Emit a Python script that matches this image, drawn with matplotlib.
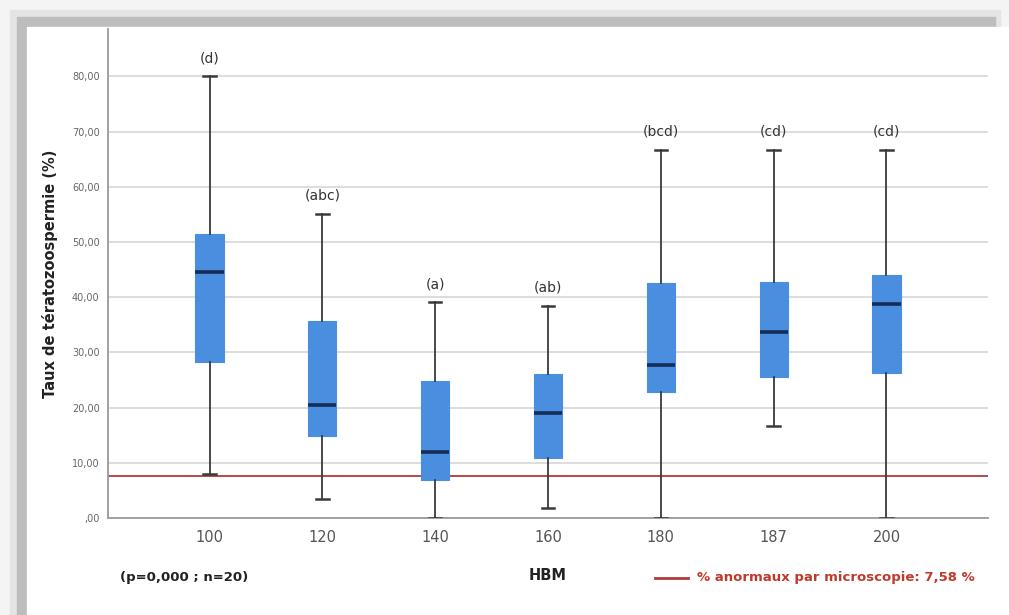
import matplotlib.pyplot as plt
from matplotlib.patches import Rectangle
from matplotlib.lines import Line2D

# HBM groups and box statistics (%)
groups = ['100', '120', '140', '160', '180', '187', '200']
whis_low = [8.0, 3.5, 0.0, 1.8, 0.0, 16.7, 0.0]
q1 = [28.2, 14.9, 6.9, 10.9, 22.9, 25.5, 26.2]
median = [44.6, 20.4, 11.9, 19.0, 27.7, 33.7, 38.7]
q3 = [51.4, 35.7, 24.8, 26.1, 42.6, 42.8, 44.1]
whis_high = [80.0, 55.1, 39.1, 38.4, 66.67, 66.67, 66.67]
letters = ['(d)', '(abc)', '(a)', '(ab)', '(bcd)', '(cd)', '(cd)']
ref_value = 7.58
yticks = [0, 10, 20, 30, 40, 50, 60, 70, 80]
ytick_labels = [',00', '10,00', '20,00', '30,00', '40,00', '50,00', '60,00', '70,00', '80,00']

W, H = 1009, 615
fig = plt.figure(figsize=(W / 100, H / 100), dpi=100)
fig.patch.set_facecolor('#f4f4f4')

def px_rect(x0, y0, x1, y1, color):
    fig.patches.append(Rectangle((x0 / W, 1 - y1 / H), (x1 - x0) / W, (y1 - y0) / H,
                                 transform=fig.transFigure, color=color, zorder=-10))

# framed panel with a shadow on top and left
px_rect(10, 10, 1000, 615, '#e4e4e4')
px_rect(17, 17, 995, 615, '#bdbdbd')
px_rect(27, 27, 1009, 615, 'white')

ax = fig.add_axes([108 / W, 1 - 518 / H, (988 - 108) / W, (518 - 29) / H])
ax.set_facecolor('white')

stats = []
for i in range(len(groups)):
    stats.append(dict(med=median[i], q1=q1[i], q3=q3[i],
                      whislo=whis_low[i], whishi=whis_high[i], fliers=[]))

box_color = '#4a8ee0'
ax.bxp(stats, positions=range(len(groups)), widths=0.25, capwidths=0.11,
       patch_artist=True, showfliers=False,
       boxprops=dict(facecolor=box_color, edgecolor=box_color, linewidth=0.8),
       medianprops=dict(color='#142c56', linewidth=2.6),
       whiskerprops=dict(color='#3a3a3a', linewidth=1.3),
       capprops=dict(color='#3a3a3a', linewidth=1.8),
       zorder=3)

for i, lab in enumerate(letters):
    ax.annotate(lab, (i, whis_high[i]), xytext=(0, 8), textcoords='offset points',
                ha='center', va='bottom', fontsize=10, color='#333333')

ref_color = '#b03a3a'
ax.axhline(ref_value, color=ref_color, linewidth=1.3, zorder=2)

ax.set_xlim(-0.9, 6.9)
ax.set_ylim(0, 88.6)
ax.set_yticks(yticks)
ax.set_yticklabels(ytick_labels, fontsize=7, color='#666666')
ax.set_xticks(range(len(groups)))
ax.set_xticklabels(groups, fontsize=10.5, color='#555555')
ax.tick_params(axis='y', length=0, pad=6)
ax.tick_params(axis='x', length=0, pad=9)
ax.yaxis.grid(True, color='#dadada', linewidth=1.3)
ax.set_axisbelow(True)
for s in ['top', 'right']:
    ax.spines[s].set_visible(False)
for s in ['left', 'bottom']:
    ax.spines[s].set_color('#9a9a9a')
    ax.spines[s].set_linewidth(1.3)

ax.set_xlabel('HBM', fontsize=10.5, fontweight='bold', color='#222222', labelpad=16)
ax.set_ylabel('Taux de tératozoospermie (%)', fontsize=10.5, fontweight='bold',
              color='#222222', labelpad=10)

fig.text(120 / W, 1 - 578 / H, '(p=0,000 ; n=20)', fontsize=9.5, fontweight='bold',
         color='#222222', va='center')
fig.lines.append(Line2D([655 / W, 688 / W], [1 - 578 / H, 1 - 578 / H],
                        transform=fig.transFigure, color=ref_color, linewidth=2))
fig.text(697 / W, 1 - 578 / H, '% anormaux par microscopie: 7,58 %', fontsize=9.5,
         fontweight='bold', color='#c0392b', va='center')

fig.savefig('out.png', dpi=100, facecolor=fig.get_facecolor())
